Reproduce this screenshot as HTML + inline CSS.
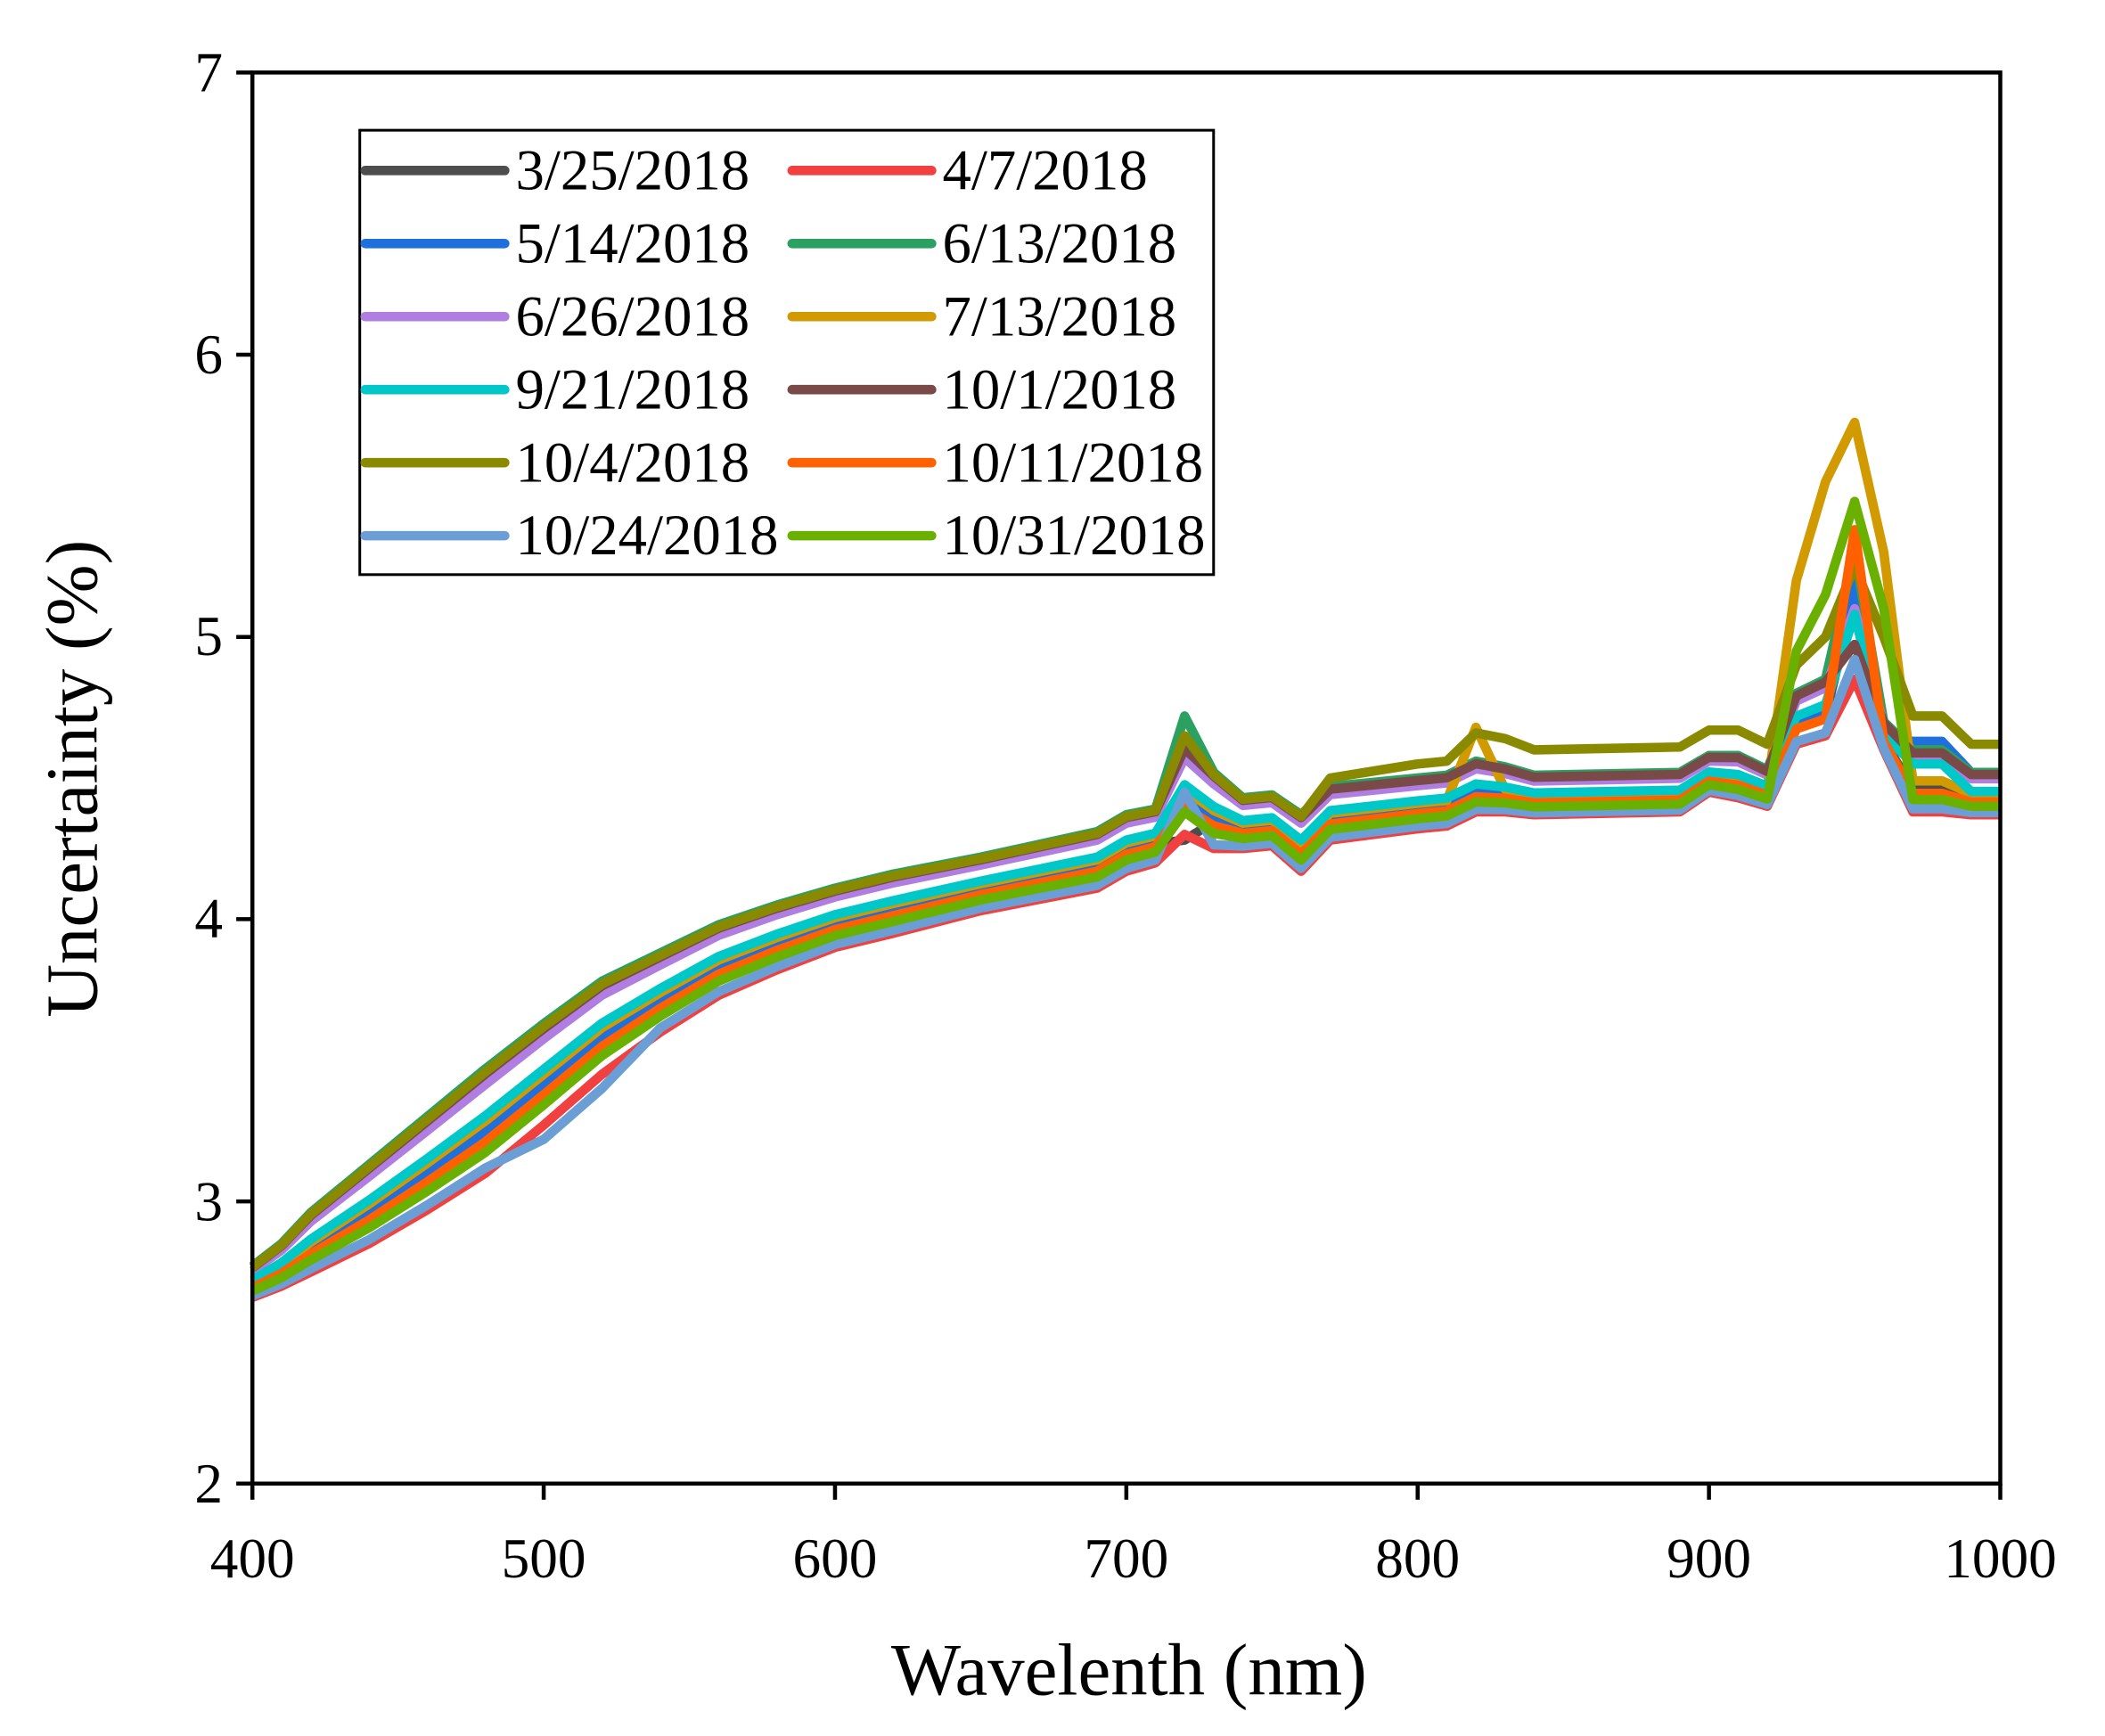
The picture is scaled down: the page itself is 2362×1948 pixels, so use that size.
<!DOCTYPE html>
<html><head><meta charset="utf-8"><style>html,body{margin:0;padding:0;background:#fff}svg{display:block}</style></head>
<body>
<svg id="s" width="2362" height="1948" viewBox="0 0 1568 1293" preserveAspectRatio="none" xmlns="http://www.w3.org/2000/svg" font-family="'Liberation Serif', serif">
<rect width="1568" height="1293" fill="#fff"/>
<g id="series" fill="none" stroke-width="7" stroke-linejoin="round"></g>
<rect x="188" y="54" width="1302" height="1051" fill="none" stroke="#000" stroke-width="3"/>
<g stroke="#000" stroke-width="3">
<line x1="176" y1="54" x2="188" y2="54"/><line x1="176" y1="264.2" x2="188" y2="264.2"/><line x1="176" y1="474.4" x2="188" y2="474.4"/><line x1="176" y1="684.6" x2="188" y2="684.6"/><line x1="176" y1="894.8" x2="188" y2="894.8"/><line x1="176" y1="1105" x2="188" y2="1105"/>
<line x1="188" y1="1105" x2="188" y2="1117"/><line x1="405" y1="1105" x2="405" y2="1117"/><line x1="622" y1="1105" x2="622" y2="1117"/><line x1="839" y1="1105" x2="839" y2="1117"/><line x1="1056" y1="1105" x2="1056" y2="1117"/><line x1="1273" y1="1105" x2="1273" y2="1117"/><line x1="1490" y1="1105" x2="1490" y2="1117"/>
</g>
<g font-size="42" text-anchor="end" fill="#000">
<text x="166" y="68">7</text><text x="166" y="278">6</text><text x="166" y="488">5</text><text x="166" y="698">4</text><text x="166" y="909">3</text><text x="166" y="1119">2</text>
</g>
<g font-size="42" text-anchor="middle" fill="#000">
<text x="188" y="1175">400</text><text x="405" y="1175">500</text><text x="622" y="1175">600</text><text x="839" y="1175">700</text><text x="1056" y="1175">800</text><text x="1273" y="1175">900</text><text x="1490" y="1175">1000</text>
</g>
<text x="841" y="1262" font-size="55" text-anchor="middle">Wavelenth (nm)</text>
<text transform="translate(72,580) rotate(-90)" font-size="55" text-anchor="middle">Uncertainty (%)</text>
<rect x="268" y="97" width="636" height="331" fill="#fff" stroke="#000" stroke-width="2"/>
<g id="leg" font-size="43"></g>
</svg>
<script>
var W=[400,410,420,440,460,480,500,520,540,560,580,600,620,650,690,700,710,720,730,740,750,760,770,800,810,820,830,840,890,900,910,920,930,940,950,960,970,980,990,1000];
var L=[2.66,2.7,2.75,2.85,2.97,3.1,3.27,3.45,3.6,3.73,3.82,3.9,3.95,4.03,4.11,4.17,4.2,4.3,4.25,4.25,4.26,4.17,4.28,4.32,4.33,4.38,4.38,4.37,4.38,4.45,4.43,4.4,4.62,4.65,4.85,4.6,4.38,4.38,4.37,4.37];
var U=[2.77,2.85,2.96,3.13,3.3,3.47,3.63,3.78,3.88,3.98,4.05,4.11,4.16,4.22,4.31,4.37,4.39,4.62,4.52,4.43,4.44,4.37,4.47,4.5,4.51,4.56,4.54,4.51,4.52,4.58,4.58,4.53,4.8,4.85,4.98,4.7,4.6,4.6,4.52,4.52];
var S=[
["3/25/2018","#4d4d4d",0.35,{720:4.28,950:5.15}],
["4/7/2018","#f04040",0,{}],
["5/14/2018","#1f6fdc",0.4,{950:5.2,970:4.63,980:4.63,990:4.52,1000:4.52}],
["6/13/2018","#2ca060",1.0,{720:4.72,950:5.3}],
["6/26/2018","#b07de0",0.85,{950:5.1}],
["7/13/2018","#d09a00",0.5,{820:4.68,930:5.2,940:5.55,950:5.76,960:5.3}],
["9/21/2018","#00c8c8",0.55,{950:5.08,970:4.55,980:4.55}],
["10/1/2018","#7a4a48",0.95,{}],
["10/4/2018","#8a8a00",0.97,{720:4.65,770:4.5,800:4.55,810:4.56,820:4.66,830:4.64,840:4.6,890:4.61,900:4.67,910:4.67,920:4.62,930:4.9,940:5.0,950:5.25,960:5.0,970:4.72,980:4.72,990:4.62,1000:4.62}],
["10/11/2018","#ff6000",0.3,{950:5.38}],
["10/24/2018","#6a9ed4",0.05,{500:3.22,520:3.4,720:4.45,950:4.92}],
["10/31/2018","#6ab000",0.2,{720:4.38,930:4.95,940:5.15,950:5.48,960:5.1}]
];
function X(w){return 188+(w-400)*2.17}function Y(v){return 1105-(v-2)*210.2}
var g=document.getElementById('series'),lg=document.getElementById('leg'),ns="http://www.w3.org/2000/svg";
S.forEach(function(s,i){
 var pts=W.map(function(w,k){var v=s[3][w]!==undefined?s[3][w]:L[k]+(U[k]-L[k])*s[2];return X(w).toFixed(1)+","+Y(v).toFixed(1)}).join(" ");
 var p=document.createElementNS(ns,'polyline');p.setAttribute('points',pts);p.setAttribute('stroke',s[1]);g.appendChild(p);
 var col=i%2,row=Math.floor(i/2),y=127+row*54.4;
 var lx=col?590:272,tx=col?702:384;
 var l=document.createElementNS(ns,'line');l.setAttribute('x1',lx);l.setAttribute('x2',lx+104);l.setAttribute('y1',y);l.setAttribute('y2',y);l.setAttribute('stroke',s[1]);l.setAttribute('stroke-width',7);l.setAttribute('stroke-linecap','round');lg.appendChild(l);
 var t=document.createElementNS(ns,'text');t.setAttribute('x',tx);t.setAttribute('y',y+14);t.textContent=s[0];lg.appendChild(t);
});
</script>
</body></html>
